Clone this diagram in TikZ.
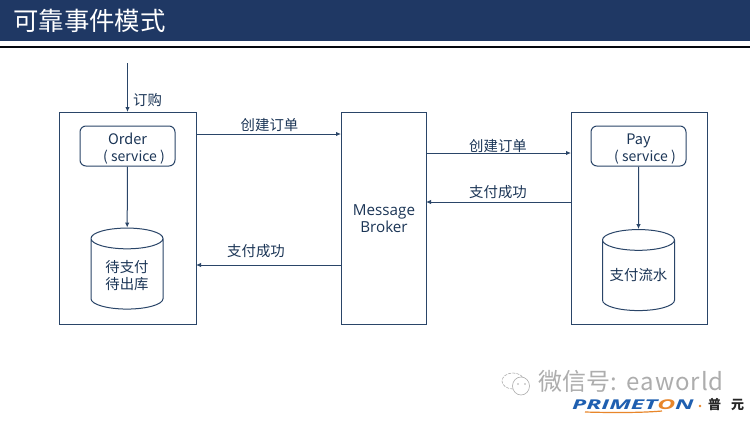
\documentclass[tikz,border=0pt]{standalone}
\usepackage{fontspec}
\setmainfont{Open Sans}
\newfontfamily\cjk{Noto Sans CJK SC}
\usetikzlibrary{shapes.geometric,arrows.meta}
\definecolor{navy}{HTML}{1F3864}
\definecolor{line}{HTML}{2A4568}
\definecolor{txt}{HTML}{1B3556}
\definecolor{logoblue}{HTML}{1F5FB0}
\definecolor{logoorange}{HTML}{E8862A}
\tikzset{
  frame/.style={draw=line,line width=1pt,fill=white,anchor=north west,inner sep=0pt},
  svc/.style={draw=line,line width=1pt,rounded corners=6pt,minimum width=95pt,minimum height=40pt,inner sep=0pt,align=center,text=txt,font=\fontsize{14.5}{17}\selectfont\cjk},
  db/.style={draw=line,line width=1pt,cylinder,shape border rotate=90,aspect=0.36,minimum width=72pt,minimum height=81pt,inner sep=0pt,font=\fontsize{14.4}{17}\selectfont\cjk},
  dblab/.style={align=center,inner sep=0pt,text=txt,font=\fontsize{14.4}{17}\selectfont\cjk},
  conn/.style={draw=line,line width=1pt,-{Latex[length=5pt,width=4.5pt]}},
  lab/.style={text=txt,font=\fontsize{14.4}{16}\selectfont\cjk,inner sep=0pt},
  wmline/.style={draw=black!32,line width=0.6pt},
}
\newcommand{\svcline}{\hspace*{13pt}{\fontsize{14}{17}\selectfont( service )}}
\begin{document}
\begin{tikzpicture}[x=1pt,y=-1pt]
\useasboundingbox (0,0) rectangle (750,421);
\fill[white] (0,0) rectangle (750,421);
\fill[navy] (0,0) rectangle (750,41);
\fill[black!85!navy] (0,45.5) rectangle (750,48);
\node[anchor=west,text=white,inner sep=0pt,font=\fontsize{25.4}{28}\selectfont\cjk] (title) at (13,21) {可靠事件模式};
% frames
\node[frame,minimum width=137pt,minimum height=212pt] (orderbox) at (59,112) {};
\node[frame,minimum width=85pt,minimum height=212pt,align=center,text=txt,font=\fontsize{15.2}{17}\selectfont] (broker) at (341,112) {Message\\Broker};
\node[frame,minimum width=136pt,minimum height=212pt] (paybox) at (571,112) {};
% services
\node[svc] (order) at (127.5,146) {\rule{0pt}{17pt}Order\\\svcline};
\node[svc] (pay) at (638.5,146) {\rule{0pt}{17pt}Pay\\\svcline};
% stores
\node[db] (wait) at (127,274) {\phantom{支付流水}};
\node[db] (flow) at (638.5,275.5) {\phantom{支付流水}};
\node[dblab] (waitlab) at (127,275.5) {待支付\\待出库};
\node[dblab] (flowlab) at (638.5,275) {支付流水};
% connectors
\coordinate (start) at (127.5,63);
\draw[conn] (start) -- (orderbox.north -| start);
\draw[conn] (order) -- (wait);
\draw[conn] (pay) -- (flow);
\coordinate (a1) at (196,134); \coordinate (b1) at (341,134);
\draw[conn] (a1) -- (b1);
\coordinate (a2) at (341,265); \coordinate (b2) at (196,265);
\draw[conn] (a2) -- (b2);
\coordinate (a3) at (426,153); \coordinate (b3) at (571,153);
\draw[conn] (a3) -- (b3);
\coordinate (a4) at (571,202); \coordinate (b4) at (426,202);
\draw[conn] (a4) -- (b4);
% labels
\node[lab] (l0) at (147.5,100) {订购};
\node[lab] (l1) at (269.5,125) {创建订单};
\node[lab] (l2) at (256,251) {支付成功};
\node[lab] (l3) at (498,146) {创建订单};
\node[lab] (l4) at (498,192) {支付成功};
% watermark
\node[anchor=west,inner sep=0pt,text=black!32,font=\fontsize{24}{26}\selectfont\cjk] (wm) at (538,381) {微信号:\hspace{10pt}\addfontfeature{LetterSpace=4}eaworld};
\draw[wmline,dash pattern=on 3pt off 1.2pt] (513,381) ellipse (11pt and 8pt);
\draw[wmline,fill=white] (521,386) ellipse (8.5pt and 9pt);
\fill[black!32] (518,384) circle (0.9pt) (525,384) circle (0.9pt);
% logo
\node[anchor=west,inner sep=0pt,text=logoblue,font=\fontsize{13.5}{14}\selectfont\bfseries\itshape] (logo) at (572,405) {\scalebox{1.82}[1]{PRIMET\textcolor{logoorange}{O}N}};
\draw[logoorange,line width=1.2pt] (585,412) .. controls (620,413) and (645,412.5) .. (662,411);
\fill[logoorange] (700,406) circle (1.4pt);
\node[anchor=west,inner sep=0pt,text=black!85,font=\fontsize{13}{14}\selectfont\cjk\bfseries] (pu) at (708,405) {普\hspace{10pt}元};
\end{tikzpicture}
\end{document}
